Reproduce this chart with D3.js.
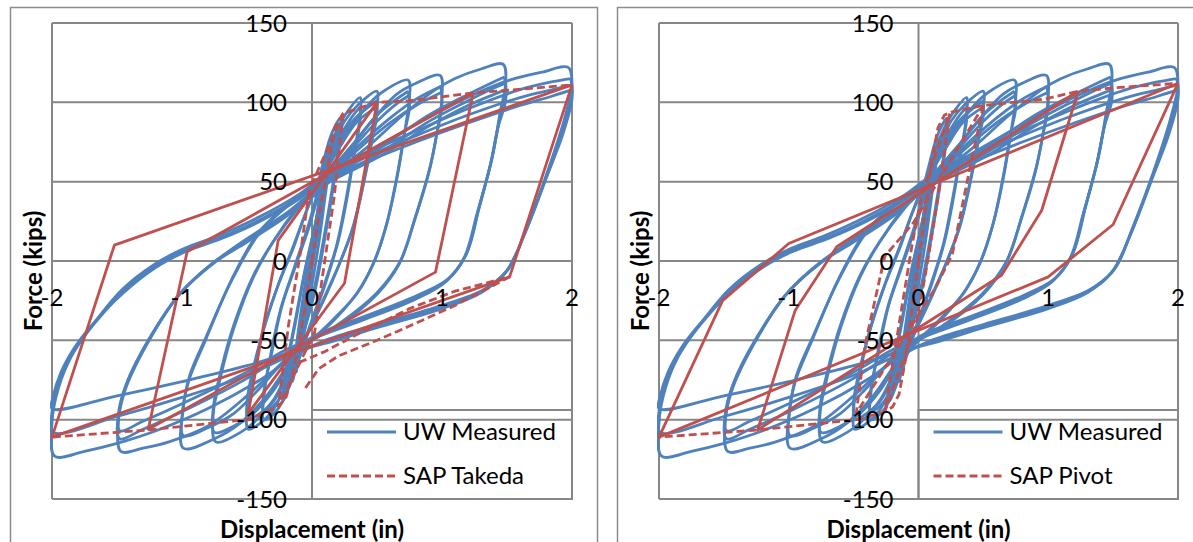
<!DOCTYPE html>
<html><head><meta charset="utf-8">
<script src="https://cdn.jsdelivr.net/npm/d3@7"></script>
<style>
body{margin:0;background:#fff;}
svg{display:block;}
text{font-family:Lato,"Open Sans",sans-serif;fill:#000;}
</style>
</head><body>
<svg id="chart" width="1193" height="542"></svg>
<script>
// ---------- tick labels ----------
const xTicks = [-2, -1, 0, 1, 2];
const xGrid = [-2, 0, 2];
const yTicks = [-150, -100, -50, 0, 50, 100, 150];
const xTitle = "Displacement (in)";
const yTitle = "Force (kips)";
const seriesNames = ["UW Measured", "SAP Takeda", "SAP Pivot"];

// ---------- UW measured cycles (displacement in, force kips) ----------
const uwLoops200 = [
 [[0.1,52],[0.5,72],[1.0,95],[1.3,107],[1.52,114],[1.77,119],[1.97,122],[2.0,112],[1.95,92],[1.81,56],[1.65,21],[1.52,-4],[1.35,-17],[1.0,-28],[0.5,-40],[0.1,-50],[-0.1,-58],[-0.4,-75],[-0.8,-93],[-1.2,-107],[-1.5,-115],[-1.75,-120],[-1.98,-123],[-2.0,-102],[-1.95,-80],[-1.85,-60],[-1.72,-44],[-1.46,-18],[-1.21,-2],[-0.98,8],[-0.72,16],[-0.4,28],[-0.1,42],[0.1,54],[0.4,67],[0.8,82],[1.2,96],[1.6,108],[1.85,113],[1.99,115]],
 [[1.99,115],[2.0,106],[1.94,85],[1.8,52],[1.64,18],[1.5,-6],[1.3,-19],[1.0,-29],[0.5,-41],[0.1,-51],[-0.1,-57],[-0.5,-72],[-1.0,-86],[-1.5,-98],[-1.99,-108],[-2.0,-95],[-1.94,-75],[-1.84,-57],[-1.7,-42],[-1.45,-19],[-1.2,-3],[-0.97,7],[-0.7,15],[-0.4,26],[-0.1,40],[0.1,53],[0.4,65],[0.8,79],[1.2,92],[1.6,103],[1.85,108],[2.0,111]],
 [[2.0,111],[2.0,102],[1.93,80],[1.79,50],[1.63,16],[1.49,-7],[1.3,-20],[1.0,-30],[0.5,-42],[0.1,-52],[-0.1,-56],[-0.5,-66],[-1.0,-76],[-1.5,-85],[-2.0,-93],[-1.99,-85],[-1.93,-70],[-1.83,-55],[-1.7,-41],[-1.45,-20],[-1.2,-4],[-0.97,6],[-0.7,14],[-0.4,25],[-0.1,39],[0.1,52],[0.4,62],[0.8,75],[1.2,87],[1.6,98],[1.85,104],[2.0,108]]
];
const uwLoops150 = [
 [[0.1,52],[0.4,70],[0.7,92],[0.95,108],[1.1,115],[1.3,121],[1.47,124],[1.49,112],[1.45,95],[1.39,67],[1.29,35],[1.19,5],[1.05,-11],[0.8,-22],[0.4,-35],[0.0,-48],[-0.2,-62],[-0.5,-85],[-0.8,-104],[-1.1,-114],[-1.3,-118],[-1.47,-120],[-1.49,-102],[-1.44,-82],[-1.28,-54],[-1.03,-22],[-0.77,-2],[-0.52,13],[-0.2,30],[0.1,50],[0.5,70],[0.9,92],[1.2,105],[1.4,113],[1.48,116]],
 [[1.48,116],[1.49,105],[1.44,88],[1.38,63],[1.28,32],[1.18,3],[1.04,-12],[0.8,-23],[0.4,-36],[0.0,-49],[-0.2,-58],[-0.5,-74],[-1.0,-95],[-1.3,-106],[-1.48,-112],[-1.49,-97],[-1.43,-78],[-1.27,-52],[-1.02,-21],[-0.76,-1],[-0.5,13],[-0.2,29],[0.1,49],[0.5,67],[0.9,88],[1.2,101],[1.4,109],[1.49,112]],
 [[1.49,112],[1.49,101],[1.43,84],[1.37,60],[1.27,30],[1.17,2],[1.03,-13],[0.8,-24],[0.4,-37],[0.0,-49],[-0.2,-56],[-0.5,-70],[-1.0,-90],[-1.3,-101],[-1.48,-107],[-1.48,-94],[-1.42,-76],[-1.26,-50],[-1.01,-20],[-0.75,-1],[-0.5,12],[-0.2,28],[0.1,48],[0.5,65],[0.9,85],[1.2,98],[1.4,105],[1.49,108]]
];
const uwLoops100 = [
 [[0.1,53],[0.3,72],[0.5,92],[0.65,105],[0.8,112],[0.985,117],[1.0,104],[0.97,85],[0.91,60],[0.8,29],[0.68,0],[0.5,-20],[0.2,-40],[0.0,-50],[-0.15,-62],[-0.35,-85],[-0.55,-102],[-0.75,-112],[-0.99,-118],[-1.0,-98],[-0.95,-76],[-0.82,-50],[-0.62,-12],[-0.41,18],[-0.15,38],[0.1,52],[0.35,72],[0.6,90],[0.8,102],[0.99,110]],
 [[0.99,110],[1.0,98],[0.96,80],[0.9,56],[0.79,26],[0.67,-2],[0.5,-21],[0.2,-41],[0.0,-50],[-0.2,-62],[-0.4,-80],[-0.6,-96],[-0.8,-105],[-0.99,-110],[-0.99,-93],[-0.94,-72],[-0.81,-47],[-0.61,-11],[-0.4,18],[-0.15,37],[0.1,51],[0.35,70],[0.6,87],[0.8,98],[0.99,106]]
];
const uwLoops075 = [
 [[0.05,50],[0.2,70],[0.35,90],[0.45,100],[0.55,107],[0.74,114],[0.75,103],[0.72,85],[0.66,55],[0.58,25],[0.48,0],[0.35,-20],[0.15,-38],[0.0,-50],[-0.15,-65],[-0.3,-88],[-0.45,-102],[-0.55,-108],[-0.74,-114],[-0.76,-97],[-0.7,-72],[-0.6,-42],[-0.45,-10],[-0.3,12],[-0.1,35],[0.1,53],[0.3,72],[0.5,92],[0.65,102],[0.74,107]],
 [[0.74,107],[0.75,97],[0.71,80],[0.65,52],[0.57,22],[0.47,-2],[0.34,-21],[0.15,-39],[0.0,-50],[-0.15,-63],[-0.3,-82],[-0.45,-96],[-0.6,-104],[-0.75,-108],[-0.76,-93],[-0.7,-69],[-0.6,-40],[-0.45,-9],[-0.3,12],[-0.1,34],[0.1,52],[0.3,70],[0.5,88],[0.65,99],[0.74,104]]
];
const uwLoops050 = [
 [[0.05,50],[0.15,70],[0.25,88],[0.35,98],[0.5,107],[0.5,97],[0.46,75],[0.4,50],[0.32,22],[0.22,0],[0.1,-22],[0.0,-40],[-0.1,-58],[-0.2,-78],[-0.3,-94],[-0.38,-101],[-0.49,-106],[-0.5,-93],[-0.45,-70],[-0.37,-42],[-0.26,-15],[-0.15,8],[-0.05,30],[0.05,50],[0.2,72],[0.35,91],[0.5,101]],
 [[0.5,101],[0.5,92],[0.45,72],[0.39,47],[0.31,20],[0.21,-2],[0.1,-23],[0.0,-40],[-0.1,-56],[-0.2,-74],[-0.3,-89],[-0.4,-96],[-0.49,-100],[-0.5,-89],[-0.45,-67],[-0.36,-40],[-0.25,-13],[-0.14,9],[-0.05,30],[0.05,49],[0.2,70],[0.35,88],[0.5,97]]
];
const uwLoops037 = [
 [[0.05,50],[0.12,68],[0.2,84],[0.28,95],[0.37,103],[0.37,92],[0.33,70],[0.27,40],[0.2,12],[0.1,-15],[0.0,-38],[-0.1,-62],[-0.2,-84],[-0.28,-95],[-0.37,-100],[-0.37,-86],[-0.32,-60],[-0.24,-30],[-0.14,-5],[-0.03,22],[0.07,50],[0.2,76],[0.3,90],[0.37,97]],
 [[0.37,97],[0.37,88],[0.32,66],[0.26,38],[0.19,10],[0.09,-16],[0.0,-37],[-0.1,-60],[-0.2,-80],[-0.28,-90],[-0.37,-95],[-0.37,-82],[-0.31,-58],[-0.23,-28],[-0.13,-4],[-0.02,22],[0.08,50],[0.2,73],[0.3,87],[0.37,93]]
];
const uwLoopsSmall = [
 [[0.02,40],[0.08,60],[0.15,80],[0.22,90],[0.22,80],[0.17,50],[0.1,15],[0.02,-20],[-0.08,-50],[-0.16,-74],[-0.22,-88],[-0.2,-70],[-0.13,-40],[-0.05,-5],[0.03,25],[0.1,55],[0.16,74],[0.22,86]],
 [[0.22,86],[0.21,76],[0.16,48],[0.09,14],[0.01,-20],[-0.08,-48],[-0.16,-72],[-0.22,-84],[-0.2,-68],[-0.13,-38],[-0.05,-4],[0.03,25],[0.1,53],[0.16,72],[0.22,83]],
 [[0.15,78],[0.14,65],[0.1,40],[0.05,10],[0.0,-15],[-0.06,-45],[-0.12,-65],[-0.15,-76],[-0.13,-60],[-0.09,-35],[-0.04,-8],[0.02,20],[0.08,48],[0.12,64],[0.15,75]],
 [[0.12,72],[0.1,50],[0.06,25],[0.01,0],[-0.05,-30],[-0.09,-50],[-0.12,-70],[-0.1,-50],[-0.06,-25],[-0.01,0],[0.05,30],[0.09,50],[0.12,68]],
 [[0.1,62],[0.07,40],[0.03,15],[-0.02,-12],[-0.07,-40],[-0.1,-60],[-0.08,-42],[-0.04,-18],[0.0,5],[0.04,28],[0.08,48],[0.1,60]],
 [[0.06,45],[0.03,20],[0.0,0],[-0.03,-20],[-0.06,-42],[-0.03,-20],[0.0,0],[0.03,22],[0.06,43]]
];
const uwMeasured = [].concat(uwLoops200, uwLoops150, uwLoops100, uwLoops075, uwLoops050, uwLoops037, uwLoopsSmall);

// ---------- SAP Takeda ----------
const takedaSolid = [
 [[2,111],[1.52,-10],[-2,-111],[-1.52,10],[2,111]],
 [[1.24,106],[0.95,-7],[-1.26,-106],[-0.96,6],[1.24,106]],
 [[0.5,100],[0.25,-14],[-0.49,-96],[-0.26,13],[0.5,100]]
];
const takedaDashed = [
 [[0,0],[0.05,28],[0.11,53],[0.14,68],[0.18,85],[0.24,93],[0.5,100],[0.75,101],[1.24,106],[1.5,107.5],[2,111]],
 [[0,0],[-0.05,-28],[-0.11,-55],[-0.15,-72],[-0.2,-86],[-0.26,-92],[-0.5,-100],[-1.26,-106.5],[-2,-111]],
 [[0.24,93],[0.17,40],[0.08,-10],[0.02,-45],[-0.26,-92],[-0.18,-40],[-0.08,10],[-0.02,45],[0.24,93]],
 [[-0.05,-80],[0.05,-68],[0.2,-60],[0.5,-50],[0.75,-41],[1.1,-28],[1.52,-10]],
 [[-0.1,-64],[0.1,-57],[0.4,-44],[0.75,-30],[1.1,-19],[1.52,-10]]
];

// ---------- SAP Pivot ----------
const pivotSolid = [
 [[2,112],[1.5,23],[1.0,-10],[-2,-111],[-1.51,-25],[-1.0,11],[2,112]],
 [[1.23,107],[0.95,32],[0.64,-9],[-1.24,-106.5],[-0.95,-31],[-0.63,9],[1.23,107]]
];
const pivotDashed = [
 [[0,0],[0.05,30],[0.1,62],[0.15,84],[0.2,92],[0.26,94],[0.5,98],[0.97,102],[1.23,107],[1.49,109],[2,112]],
 [[0,0],[-0.05,-30],[-0.1,-62],[-0.15,-84],[-0.2,-92],[-0.26,-95],[-0.48,-100],[-1.24,-106.5],[-2,-111]],
 [[0.5,98],[0.4,60],[0.26,4],[0.13,-17],[-0.48,-96],[-0.41,-52],[-0.26,3],[-0.04,24],[0.5,98]],
 [[0.24,93],[0.15,40],[0.05,-10],[-0.02,-40],[-0.26,-95],[-0.15,-40],[-0.05,10],[0.02,40],[0.24,93]]
];

// ---------- drawing ----------
const BLUE = "#4F81BD", RED = "#C0504D", GRID = "#878787";
const svg = d3.select("#chart");
const panels = [
  {frameX:10, frameW:587, left:52, right:572, model:seriesNames[1], solid:takedaSolid, dashed:takedaDashed, id:"a"},
  {frameX:617, frameW:600, left:659, right:1178, model:seriesNames[2], solid:pivotSolid, dashed:pivotDashed, id:"b"}
];
const plotTop = 23, plotBottom = 499;

panels.forEach(p => {
  const g = svg.append("g");
  const x = d3.scaleLinear().domain([-2, 2]).range([p.left, p.right]);
  const y = d3.scaleLinear().domain([-150, 150]).range([plotBottom, plotTop]);

  g.append("rect").attr("x", p.frameX + 0.5).attr("y", 7.5)
    .attr("width", p.frameW).attr("height", 600)
    .attr("fill", "none").attr("stroke", "#8c8c8c").attr("stroke-width", 1.5);

  // grid
  g.selectAll(".hg").data(yTicks).join("line")
    .attr("x1", p.left).attr("x2", p.right)
    .attr("y1", d => y(d)).attr("y2", d => y(d))
    .attr("stroke", GRID).attr("stroke-width", 2);
  g.selectAll(".vg").data(xGrid).join("line")
    .attr("x1", d => x(d)).attr("x2", d => x(d))
    .attr("y1", plotTop).attr("y2", plotBottom)
    .attr("stroke", GRID).attr("stroke-width", 2);

  // clip
  svg.append("clipPath").attr("id", "clip" + p.id).append("rect")
    .attr("x", p.left - 2).attr("y", plotTop - 2).attr("width", p.right - p.left + 4).attr("height", plotBottom - plotTop + 4);
  const dg = g.append("g").attr("clip-path", `url(#clip${p.id})`);

  const smooth = d3.line().x(d => x(d[0])).y(d => y(d[1])).curve(d3.curveCatmullRom.alpha(0.5));
  const straight = d3.line().x(d => x(d[0])).y(d => y(d[1])).curve(d3.curveLinear);

  dg.selectAll(".uw").data(uwMeasured).join("path")
    .attr("d", smooth).attr("fill", "none").attr("stroke", BLUE)
    .attr("stroke-width", 2.8).attr("stroke-linejoin", "round");

  dg.selectAll(".rs").data(p.solid).join("path")
    .attr("d", straight).attr("fill", "none").attr("stroke", RED)
    .attr("stroke-width", 2.8).attr("stroke-linejoin", "round");
  dg.selectAll(".rd").data(p.dashed).join("path")
    .attr("d", straight).attr("fill", "none").attr("stroke", RED)
    .attr("stroke-width", 2.8).attr("stroke-dasharray", "8,4");

  // legend
  const lx = x(0), ly = 410;
  g.append("rect").attr("x", lx).attr("y", ly).attr("width", p.right - lx).attr("height", plotBottom - ly)
    .attr("fill", "none").attr("stroke", GRID).attr("stroke-width", 2);
  const leg = [{name: seriesNames[0], color: BLUE, dash: null, yy: 432},
               {name: p.model, color: RED, dash: "8,4", yy: 476}];
  leg.forEach(e => {
    g.append("line").attr("x1", lx + 15).attr("x2", lx + 84).attr("y1", e.yy).attr("y2", e.yy)
      .attr("stroke", e.color).attr("stroke-width", 2.8).attr("stroke-dasharray", e.dash);
    g.append("text").attr("x", lx + 91).attr("y", e.yy).attr("dy", "0.35em")
      .attr("font-size", 24).text(e.name);
  });

  // tick labels
  g.selectAll(".yl").data(yTicks).join("text")
    .attr("x", x(0) - 25).attr("y", d => y(d)).attr("dy", "0.36em")
    .attr("text-anchor", "end").attr("font-size", 24).text(d => d);
  g.selectAll(".xl").data(xTicks).join("text")
    .attr("x", d => x(d)).attr("y", 297).attr("dy", "0.36em")
    .attr("text-anchor", "middle").attr("font-size", 24).text(d => d);

  // titles
  g.append("text").attr("x", (p.left + p.right) / 2).attr("y", 529).attr("dy", "0.36em")
    .attr("text-anchor", "middle").attr("font-size", 24).attr("font-weight", "bold").text(xTitle);
  g.append("text").attr("transform", `translate(${p.frameX + 23},${(plotTop + plotBottom) / 2 + 10}) rotate(-90)`)
    .attr("dy", "0.36em").attr("text-anchor", "middle").attr("font-size", 24).attr("font-weight", "bold").text(yTitle);
});
</script>
</body></html>
